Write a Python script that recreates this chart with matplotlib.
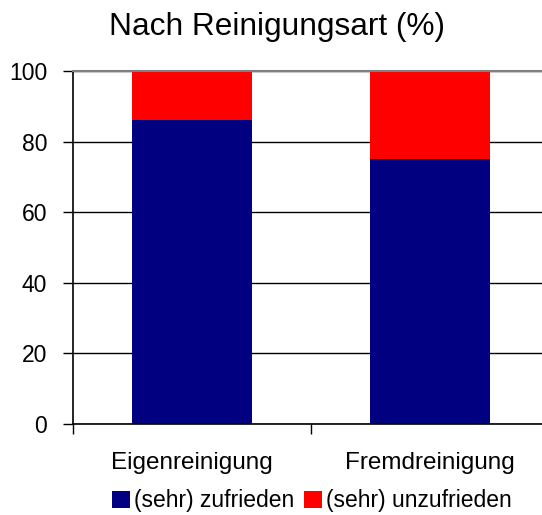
import matplotlib
matplotlib.use("Agg")
import matplotlib.pyplot as plt
from matplotlib.patches import Patch

plt.rcParams['font.family'] = ['Liberation Sans', 'DejaVu Sans']

categories = ["Eigenreinigung", "Fremdreinigung"]
zufrieden = [86, 75]
unzufrieden = [14, 25]
series_labels = ["(sehr) zufrieden", "(sehr) unzufrieden"]
colors = ["#000080", "#FF0000"]
yticks = [0, 20, 40, 60, 80, 100]

W, H = 542, 515
fig = plt.figure(figsize=(W / 100, H / 100), dpi=100)
ax_left, ax_right, ax_top, ax_bottom = 73, 549, 71, 424
ax = fig.add_axes([ax_left / W, 1 - ax_bottom / H, (ax_right - ax_left) / W, (ax_bottom - ax_top) / H])

x = list(range(len(categories)))
ax.bar(x, zufrieden, width=0.504, color=colors[0], zorder=2)
ax.bar(x, unzufrieden, bottom=zufrieden, width=0.504, color=colors[1], zorder=2)

ax.set_xlim(-0.5, 1.5)
ax.set_ylim(0, 100)
ax.set_yticks(yticks)
ax.set_yticklabels([str(t) for t in yticks], fontsize=16.5)
ax.yaxis.grid(True, color="black", linewidth=1.0, zorder=1)
ax.set_axisbelow(True)

ax.set_xticks([-0.5, 0.5, 1.5])
ax.set_xticklabels([])
ax.tick_params(axis='x', direction='out', length=7, width=1, colors='black')
ax.tick_params(axis='y', direction='out', length=7, width=1, pad=11.5)
for i, c in enumerate(categories):
    ax.text(i, (ax_bottom - 469) / (ax_bottom - ax_top), c, transform=ax.get_xaxis_transform(),
            ha='center', va='baseline', fontsize=17.5)

ax.spines['right'].set_visible(False)
ax.spines['top'].set_color('#808080')
ax.spines['top'].set_linewidth(1.5)
ax.spines['left'].set_color('black')
ax.spines['bottom'].set_color('black')
ax.spines['left'].set_linewidth(1.2)
ax.spines['bottom'].set_linewidth(1.2)

fig.text(277 / W, 1 - 35.5 / H, "Nach Reinigungsart (%)", ha='center', va='baseline', fontsize=22.8)

handles = [Patch(facecolor=colors[0]), Patch(facecolor=colors[1])]
fig.legend(handles, series_labels, loc='center', bbox_to_anchor=(312 / W, 1 - 501 / H),
           ncol=2, frameon=False, fontsize=16.5, handlelength=0.79, handleheight=0.7,
           handletextpad=0.17, columnspacing=0.44, borderpad=0, borderaxespad=0)

fig.savefig("out.png", dpi=100)
